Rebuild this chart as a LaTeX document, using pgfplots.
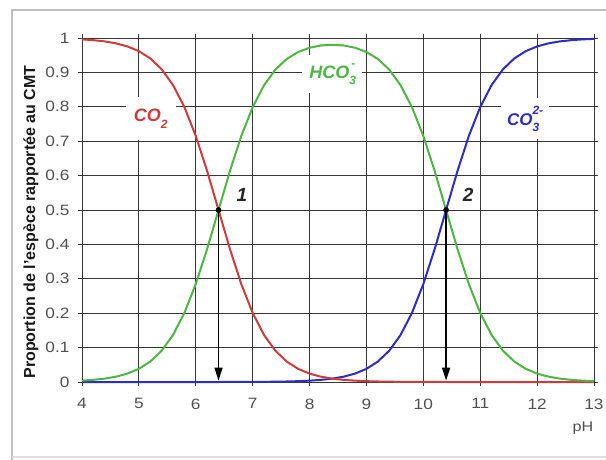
\documentclass[border=0pt]{standalone}
\usepackage{fontspec}
\setmainfont{Liberation Sans}
\usepackage{pgfplots}
\usepackage{pgfplotstable}
\pgfplotsset{compat=1.18}
\usetikzlibrary{arrows.meta}
\definecolor{cred}{RGB}{205,60,60}
\definecolor{cgreen}{RGB}{80,180,70}
\definecolor{cblue}{RGB}{45,45,195}
\definecolor{gridc}{RGB}{55,55,55}
\definecolor{tickc}{RGB}{80,80,80}
\definecolor{framec}{RGB}{190,190,190}
\newcommand\tl[1]{\scalebox{1.15}[1]{#1}}
\newcommand\lowsc[1]{\raisebox{-0.36em}{\fontsize{12}{12}\selectfont #1}}
\newcommand\highsc[1]{\raisebox{0.62em}{\fontsize{12}{12}\selectfont #1}}

\pgfplotstableread{
ph co2 hco3 co3
4.0 0.9960 0.0040 0.0000
4.2 0.9937 0.0063 0.0000
4.4 0.9901 0.0099 0.0000
4.6 0.9844 0.0156 0.0000
4.8 0.9755 0.0245 0.0000
5.0 0.9617 0.0383 0.0000
5.2 0.9407 0.0594 0.0000
5.4 0.9091 0.0909 0.0000
5.6 0.8632 0.1368 0.0000
5.8 0.7992 0.2008 0.0000
6.0 0.7153 0.2848 0.0000
6.2 0.6131 0.3869 0.0000
6.4 0.5000 0.5000 0.0000
6.6 0.3868 0.6131 0.0001
6.8 0.2847 0.7151 0.0002
7.0 0.2007 0.7990 0.0003
7.2 0.1367 0.8627 0.0005
7.4 0.0908 0.9083 0.0009
7.6 0.0593 0.9392 0.0015
7.8 0.0382 0.9594 0.0024
8.0 0.0244 0.9717 0.0039
8.2 0.0155 0.9783 0.0062
8.4 0.0098 0.9804 0.0098
8.6 0.0062 0.9783 0.0155
8.8 0.0039 0.9717 0.0244
9.0 0.0024 0.9594 0.0382
9.2 0.0015 0.9392 0.0593
9.4 0.0009 0.9083 0.0908
9.6 0.0005 0.8627 0.1367
9.8 0.0003 0.7990 0.2007
10.0 0.0002 0.7151 0.2847
10.2 0.0001 0.6131 0.3868
10.4 0.0000 0.5000 0.5000
10.6 0.0000 0.3869 0.6131
10.8 0.0000 0.2848 0.7153
11.0 0.0000 0.2008 0.7992
11.2 0.0000 0.1368 0.8632
11.4 0.0000 0.0909 0.9091
11.6 0.0000 0.0594 0.9407
11.8 0.0000 0.0383 0.9617
12.0 0.0000 0.0245 0.9755
12.2 0.0000 0.0156 0.9844
12.4 0.0000 0.0099 0.9901
12.6 0.0000 0.0063 0.9937
12.8 0.0000 0.0040 0.9960
13.0 0.0000 0.0025 0.9975
}\carb

\begin{document}
\begin{tikzpicture}[x=1pt,y=1pt]
\path[use as bounding box] (0,0) rectangle (606,459);
\draw[framec, line width=2pt] (610,449) -- (12,449) -- (12,-5);
\draw[framec!50, line width=1.5pt] (12,2) -- (610,2);
\begin{axis}[
  at={(82pt,77pt)}, anchor=south west,
  scale only axis, width=512pt, height=344pt,
  xmin=4, xmax=13, ymin=0, ymax=1,
  xtick={4,5,6,7,8,9,10,11,12,13},
  xticklabels={\tl{4},\tl{5},\tl{6},\tl{7},\tl{8},\tl{9},\tl{10},\tl{11},\tl{12},\tl{13}},
  ytick={0,0.1,0.2,0.3,0.4,0.5,0.6,0.7,0.8,0.9,1},
  yticklabels={\tl{0},\tl{0.1},\tl{0.2},\tl{0.3},\tl{0.4},\tl{0.5},\tl{0.6},\tl{0.7},\tl{0.8},\tl{0.9},\tl{1}},
  grid=major,
  major grid style={gridc, line width=0.9pt},
  axis line style={gridc, line width=0.9pt},
  tick align=outside, major tick length=4pt,
  tick style={gridc, line width=0.9pt},
  ticklabel style={font=\fontsize{15}{17}\selectfont, text=tickc},
  xticklabel style={yshift=-9pt},
  yticklabel style={xshift=-5pt},
  clip=false,
]
\addplot[cblue, line width=2pt] table[x=ph, y=co3] {\carb};
\addplot[cred, line width=2pt] table[x=ph, y=co2] {\carb};
\addplot[cgreen, line width=2pt] table[x=ph, y=hco3] {\carb};
\addplot[black, line width=1.4pt, -{Triangle[length=13pt,width=8pt]}] coordinates {(6.4,0.5) (6.4,0.004)};
\addplot[black, line width=1.4pt, -{Triangle[length=13pt,width=8pt]}] coordinates {(10.4,0.5) (10.4,0.004)};
\addplot[black, only marks, mark=*, mark size=2.6pt] coordinates {(6.4,0.5) (10.4,0.5)};
\node[fill=white, inner xsep=8pt, inner ysep=12pt, text=cred, font=\bfseries\itshape\fontsize{18}{20}\selectfont] at (axis cs:5.21,0.765) {CO\lowsc{2}};
\node[fill=white, inner xsep=7pt, inner ysep=8pt, text=cgreen, font=\bfseries\itshape\fontsize{18}{20}\selectfont] at (axis cs:8.4,0.895) {HCO\rlap{\lowsc{3}}\highsc{\,-}};
\node[fill=white, inner xsep=6pt, inner ysep=8pt, text=cblue, font=\bfseries\itshape\fontsize{17}{19}\selectfont] at (axis cs:11.79,0.765) {CO\rlap{\lowsc{3}}\highsc{2-}};
\node[text=black!85, font=\bfseries\itshape\fontsize{19}{19}\selectfont] at (axis cs:6.81,0.544) {1};
\node[text=black!85, font=\bfseries\itshape\fontsize{19}{19}\selectfont] at (axis cs:10.79,0.544) {2};
\end{axis}
\node[rotate=90, text=black!90, font=\bfseries\fontsize{16}{18}\selectfont] at (31,237) {Proportion de l'espèce rapportée au CMT};
\node[text=tickc, font=\fontsize{14}{16}\selectfont] at (583,31) {\tl{pH}};
\end{tikzpicture}
\end{document}
